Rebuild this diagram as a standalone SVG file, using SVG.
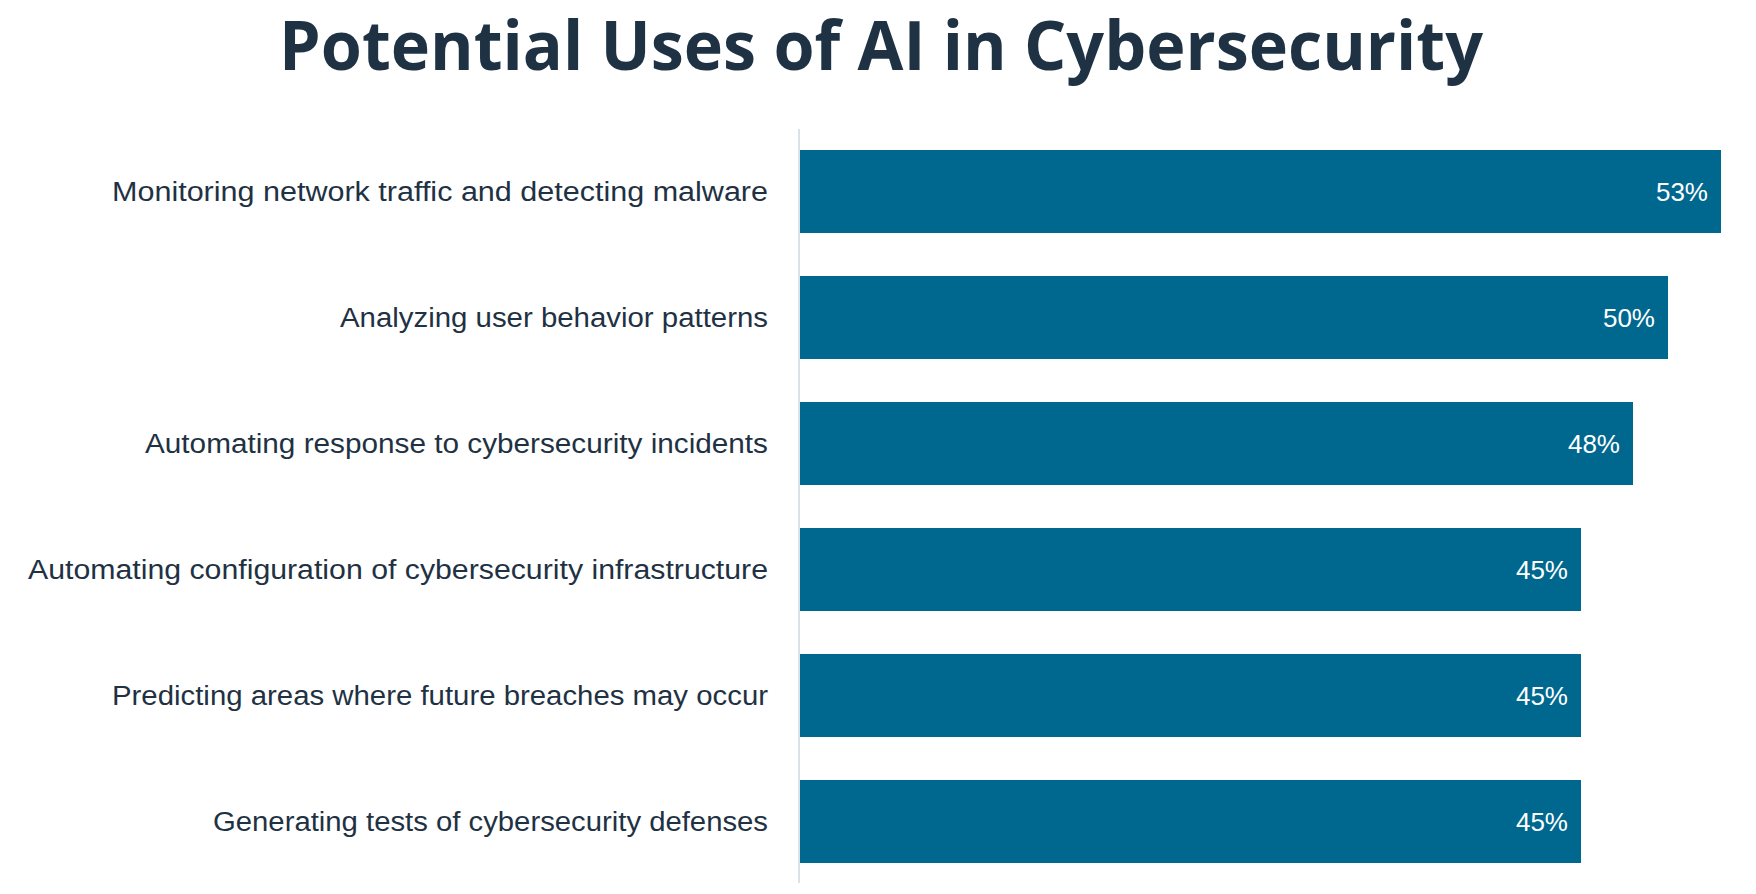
<svg xmlns="http://www.w3.org/2000/svg" width="1756" height="894" viewBox="0 0 1756 894">
<style>
.lbl{font-family:"Liberation Sans",Arial,sans-serif;font-size:27px;fill:#1f3244;text-anchor:end}
.val{font-family:"Liberation Sans",Arial,sans-serif;font-size:26px;fill:#fff;text-anchor:end}
.bar{fill:#00688f}
</style>
<rect width="1756" height="894" fill="#fff"/>
<text x="881" y="70" text-anchor="middle" font-family="Open Sans,Liberation Sans,sans-serif" font-weight="bold" font-size="68" fill="#1f3244" textLength="1204" lengthAdjust="spacingAndGlyphs">Potential Uses of AI in Cybersecurity</text>
<g id="connectors"><line x1="799" y1="129" x2="799" y2="883" stroke="#d9e1ea" stroke-width="2"/></g>
<g id="bar1"><rect class="bar" x="800" y="150" width="921" height="83"/><text class="lbl" x="768" y="201" textLength="656" lengthAdjust="spacingAndGlyphs">Monitoring network traffic and detecting malware</text><text class="val" x="1708" y="201">53%</text></g>
<g id="bar2"><rect class="bar" x="800" y="276" width="868" height="83"/><text class="lbl" x="768" y="327" textLength="428" lengthAdjust="spacingAndGlyphs">Analyzing user behavior patterns</text><text class="val" x="1655" y="327">50%</text></g>
<g id="bar3"><rect class="bar" x="800" y="402" width="833" height="83"/><text class="lbl" x="768" y="453" textLength="623" lengthAdjust="spacingAndGlyphs">Automating response to cybersecurity incidents</text><text class="val" x="1620" y="453">48%</text></g>
<g id="bar4"><rect class="bar" x="800" y="528" width="781" height="83"/><text class="lbl" x="768" y="579" textLength="740" lengthAdjust="spacingAndGlyphs">Automating configuration of cybersecurity infrastructure</text><text class="val" x="1568" y="579">45%</text></g>
<g id="bar5"><rect class="bar" x="800" y="654" width="781" height="83"/><text class="lbl" x="768" y="705" textLength="656" lengthAdjust="spacingAndGlyphs">Predicting areas where future breaches may occur</text><text class="val" x="1568" y="705">45%</text></g>
<g id="bar6"><rect class="bar" x="800" y="780" width="781" height="83"/><text class="lbl" x="768" y="831" textLength="555" lengthAdjust="spacingAndGlyphs">Generating tests of cybersecurity defenses</text><text class="val" x="1568" y="831">45%</text></g>
</svg>
